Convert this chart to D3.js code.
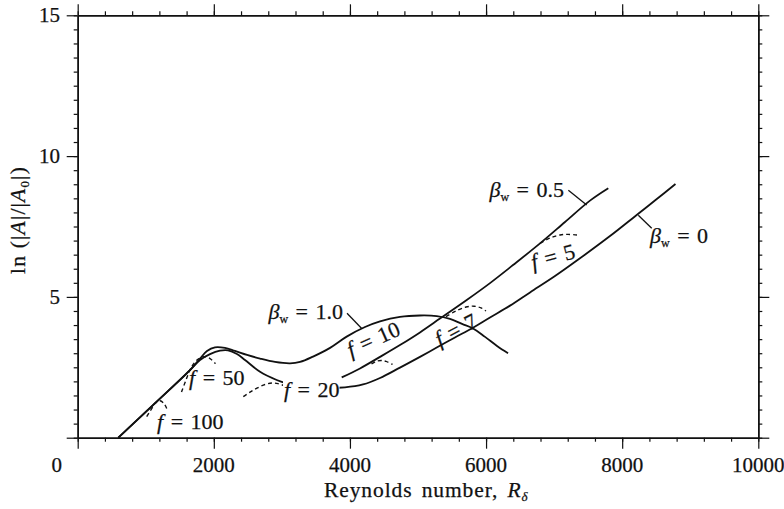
<!DOCTYPE html>
<html>
<head>
<meta charset="utf-8">
<script src="https://cdn.jsdelivr.net/npm/d3@7"></script>
<style>
  html, body { margin: 0; padding: 0; background: #fff; }
  svg { display: block; }
  text { font-family: "Liberation Serif", "DejaVu Serif", serif; fill: #111; stroke: #111; stroke-width: 0.25; }
</style>
</head>
<body>
<svg id="chart" width="784" height="509"></svg>
<script>
// Growth of disturbance amplitude, ln(|A|/|A0|), against Reynolds number R_delta
// for three wall-damping values and a family of constant-frequency curves.

const xTicksMajor = [0, 2000, 4000, 6000, 8000, 10000];
const xTickLabels = ["0", "2000", "4000", "6000", "8000", "10000"];
const yTicksMajor = [0, 5, 10, 15];
const yTickLabels = ["", "5", "10", "15"];

// beta_w = 1.0 : [R, ln(|A|/|A0|)]
const betaOne = [
  [597, 0.00], [1161, 1.28], [1650, 2.40], [1797, 2.81], [1900, 3.08],
  [2017, 3.21], [2164, 3.19], [2311, 3.08], [2488, 2.94], [2679, 2.81],
  [2899, 2.69], [3120, 2.64], [3267, 2.69], [3458, 2.88], [3708, 3.19],
  [3952, 3.59], [4221, 3.93], [4442, 4.13], [4735, 4.29], [5029, 4.34],
  [5275, 4.32], [5470, 4.22], [5647, 4.04], [5808, 3.88], [5985, 3.58],
  [6161, 3.26], [6323, 3.00]
];

// beta_w = 0.5
const betaHalf = [
  [3879, 2.14], [4148, 2.46], [4442, 2.87], [4735, 3.29], [5029, 3.74],
  [5323, 4.23], [5716, 4.89], [6058, 5.49], [6396, 6.13], [6793, 6.90],
  [7160, 7.66], [7527, 8.42], [7796, 8.86]
];

// beta_w = 0
const betaZero = [
  [597, 0.00], [1161, 1.28], [1650, 2.40], [1797, 2.76], [1944, 2.97],
  [2091, 3.09], [2208, 3.10], [2340, 2.97], [2458, 2.76], [2679, 2.34],
  [2924, 2.05], [3071, 1.93], [3267, 1.84], [3560, 1.78], [3927, 1.79],
  [4192, 1.89], [4442, 2.12], [4735, 2.49], [5029, 2.87], [5275, 3.20],
  [5543, 3.56], [5789, 3.88], [6058, 4.27], [6352, 4.69], [6646, 5.16],
  [7013, 5.74], [7380, 6.37], [7821, 7.16], [8213, 7.91], [8490, 8.44],
  [8783, 9.01]
];

// constant-frequency curves (dashed)
const f100 = [[1014, 0.75], [1092, 1.05], [1136, 1.22], [1209, 1.31], [1268, 1.21], [1308, 1.04]];
const f50  = [[1525, 1.62], [1591, 2.05], [1665, 2.48], [1753, 2.76], [1856, 2.88], [1944, 2.81], [2025, 2.63]];
const f20  = [[2433, 1.46], [2532, 1.62], [2634, 1.76], [2752, 1.89], [2855, 1.94], [2943, 1.92], [3032, 1.85]];
const f10  = [[4317, 2.62], [4383, 2.71], [4457, 2.74], [4530, 2.71], [4626, 2.60]];
const f7   = [[5411, 4.30], [5558, 4.50], [5705, 4.64], [5823, 4.67], [5926, 4.61], [5999, 4.50]];
const f5   = [[6793, 6.90], [6896, 7.04], [6984, 7.13], [7087, 7.20], [7204, 7.22], [7336, 7.20]];

const svg = d3.select("#chart");
const x = d3.scaleLinear().domain([0, 10000]).range([77.7, 758.3]);
const y = d3.scaleLinear().domain([0, 15]).range([437.7, 15.3]);

const minorX = d3.range(0, 10001, 400);
const minorY = d3.range(0, 15.01, 0.5);

function styleAxis(g) {
  g.selectAll("path").attr("stroke", "#111").attr("stroke-width", 1.5);
  g.selectAll("line").attr("stroke", "#111").attr("stroke-width", 1.2);
  g.selectAll("text").remove();
}

// frame: four axes, minor and major ticks pointing outward
const frame = [
  {axis: d3.axisBottom, t: `translate(0,${y(0)})`, sc: x, minor: minorX, major: xTicksMajor},
  {axis: d3.axisTop,    t: `translate(0,${y(15)})`, sc: x, minor: minorX, major: xTicksMajor},
  {axis: d3.axisLeft,   t: `translate(${x(0)},0)`, sc: y, minor: minorY, major: yTicksMajor},
  {axis: d3.axisRight,  t: `translate(${x(10000)},0)`, sc: y, minor: minorY, major: yTicksMajor}
];
frame.forEach(f => {
  svg.append("g").attr("transform", f.t)
    .call(f.axis(f.sc).tickValues(f.minor).tickSize(4).tickSizeOuter(0).tickFormat(""))
    .call(styleAxis);
  svg.append("g").attr("transform", f.t)
    .call(f.axis(f.sc).tickValues(f.major).tickSize(11).tickSizeOuter(0).tickFormat(""))
    .call(styleAxis);
});

// tick labels
svg.append("g").selectAll("text").data(xTicksMajor).join("text")
  .attr("x", (d, i) => x(d) + (i === 0 ? -21 : 0))
  .attr("y", 472)
  .attr("text-anchor", "middle")
  .attr("font-size", 21)
  .text((d, i) => xTickLabels[i]);

svg.append("g").selectAll("text").data(yTicksMajor).join("text")
  .attr("x", 60)
  .attr("y", d => y(d) + 7)
  .attr("text-anchor", "end")
  .attr("font-size", 21)
  .text((d, i) => yTickLabels[i]);

// axis titles
const xt = svg.append("text").attr("x", 324).attr("y", 497).attr("font-size", 21.5)
  .attr("letter-spacing", 0.9).attr("word-spacing", 3);
xt.append("tspan").text("Reynolds number, ");
xt.append("tspan").attr("font-style", "italic").text("R");
xt.append("tspan").attr("font-size", 13).attr("font-style", "italic").attr("dy", 4).text("δ");

const yt = svg.append("text").attr("transform", "translate(25,220) rotate(-90)")
  .attr("text-anchor", "middle").attr("font-size", 21.5).attr("letter-spacing", 1.2);
yt.append("tspan").text("ln (|");
yt.append("tspan").attr("font-style", "italic").text("A");
yt.append("tspan").text("|/|");
yt.append("tspan").attr("font-style", "italic").text("A");
yt.append("tspan").attr("font-size", 13).attr("dy", 4).text("0");
yt.append("tspan").attr("dy", -4).text("|)");

// curves
const line = d3.line().x(d => x(d[0])).y(d => y(d[1])).curve(d3.curveCatmullRom.alpha(0.5));

const solid = svg.append("g").attr("fill", "none").attr("stroke", "#111").attr("stroke-width", 1.8);
[betaOne, betaHalf, betaZero].forEach(s => solid.append("path").attr("d", line(s)));

const dashed = svg.append("g").attr("fill", "none").attr("stroke", "#111")
  .attr("stroke-width", 1.4).attr("stroke-dasharray", "4,3");
[f100, f50, f20, f10, f7, f5].forEach(s => dashed.append("path").attr("d", line(s)));

// pointer lines from beta labels to their curves
const pointers = [
  [[7209, 8.79], [7479, 8.26]],
  [[8237, 7.90], [8434, 7.44]],
  [[3957, 4.42], [4173, 3.88]]
];
svg.append("g").attr("stroke", "#111").attr("stroke-width", 1.3)
  .selectAll("line").data(pointers).join("line")
  .attr("x1", d => x(d[0][0])).attr("y1", d => y(d[0][1]))
  .attr("x2", d => x(d[1][0])).attr("y2", d => y(d[1][1]));

// beta labels
function betaLabel(R, v, anchor, val) {
  const t = svg.append("text").attr("x", x(R)).attr("y", y(v))
    .attr("text-anchor", anchor).attr("font-size", 22).attr("word-spacing", 2);
  t.append("tspan").attr("font-style", "italic").text("β");
  t.append("tspan").attr("font-size", 12).attr("dy", 4).text("w");
  t.append("tspan").attr("dy", -4).text(" = " + val);
  return t;
}
betaLabel(7145, 8.55, "end", "0.5");
betaLabel(8409, 6.91, "start", "0");
betaLabel(3898, 4.22, "end", "1.0");

// frequency labels
function fLabel(R, v, val, angle, anchor) {
  const g = svg.append("g").attr("transform", `translate(${x(R)},${y(v)}) rotate(${angle})`);
  const t = g.append("text").attr("font-size", 22).attr("text-anchor", anchor || "start")
    .attr("word-spacing", 2);
  t.append("tspan").attr("font-style", "italic").text("f");
  t.append("tspan").text(" = " + val);
  return {g, t};
}
fLabel(1166, 0.31, "100", 0);
fLabel(1636, 1.87, "50", 0);
const l20 = fLabel(3031, 1.45, "20", 0);
const bb = l20.t.node().getBBox();
l20.g.insert("rect", "text").attr("x", bb.x - 1).attr("y", bb.y + 3)
  .attr("width", bb.width + 1).attr("height", bb.height - 6).attr("fill", "#fff");
fLabel(4388, 3.26, "10", -24, "middle");
fLabel(5607, 3.60, "7", -28, "middle");
fLabel(7010, 6.18, "5", -15, "middle");
</script>
</body>
</html>
